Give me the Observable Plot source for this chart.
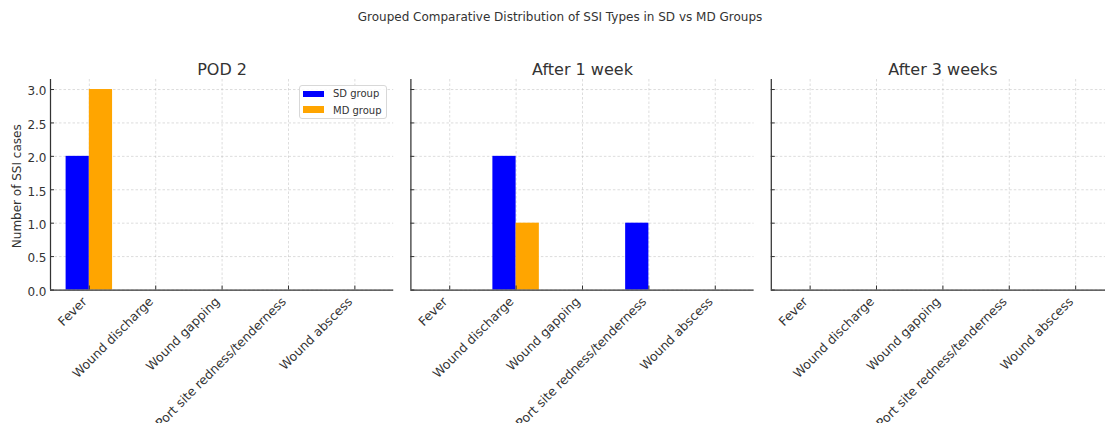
<!DOCTYPE html>
<html>
<head>
<meta charset="utf-8">
<script src="https://cdn.jsdelivr.net/npm/d3@7"></script>
<script src="https://cdn.jsdelivr.net/npm/@observablehq/plot@0.6"></script>
<style>
  body { margin: 0; background: #fff; font-family: "DejaVu Sans", sans-serif; overflow: hidden; }
  #wrap { position: relative; width: 1105px; height: 423px; overflow: hidden; background: #fff; }
  #fig { position: absolute; left: 0; top: 0; width: 1120px; }
  #title { position: relative; height: 40px; }
  #title span { position: absolute; left: 0; width: 1120px; top: 9.6px; text-align: center; font-size: 12px; line-height: normal; color: #333; white-space: nowrap; }
  #legend { position: absolute; left: 299px; top: 85px; width: 86px; height: 32px; border: 1px solid #d8d8d8; border-radius: 3px; background: rgba(255,255,255,0.85); font-size: 10px; color: #333; }
  #legend .sw { position: absolute; left: 3px; width: 21px; height: 6.5px; }
  #legend .lb { position: absolute; left: 33px; line-height: normal; white-space: nowrap; }
</style>
</head>
<body>
<div id="wrap">
  <div id="fig">
    <div id="title"><span>Grouped Comparative Distribution of SSI Types in SD vs MD Groups</span></div>
    <div id="chart"></div>
  </div>
  <div id="legend"></div>
</div>
<script>
// ---- data ----
const categories = ["Fever", "Wound discharge", "Wound gapping", "Port site redness/tenderness", "Wound abscess"];
const periods = ["POD 2", "After 1 week", "After 3 weeks"];
const groups = ["SD group", "MD group"];
const sdPod2 = [2, 0, 0, 0, 0];
const mdPod2 = [3, 0, 0, 0, 0];
const sdWeek1 = [0, 2, 0, 1, 0];
const mdWeek1 = [0, 1, 0, 0, 0];
const sdWeek3 = [0, 0, 0, 0, 0];
const mdWeek3 = [0, 0, 0, 0, 0];
const yTicks = [0, 0.5, 1.0, 1.5, 2.0, 2.5, 3.0];
const groupColors = ["#0000ff", "#ffa500"];

// ---- table for the library ----
const seriesByPeriod = [[sdPod2, mdPod2], [sdWeek1, mdWeek1], [sdWeek3, mdWeek3]];
const barW = 0.35;
const rows = [];
periods.forEach((p, pi) => {
  categories.forEach((c, ci) => {
    groups.forEach((g, gi) => {
      rows.push({
        period: p, category: c, group: g,
        value: seriesByPeriod[pi][gi][ci],
        x1: ci + (gi === 0 ? -barW : 0),
        x2: ci + (gi === 0 ? 0 : barW)
      });
    });
  });
});

const xMin = -0.585, xMax = categories.length - 1 + 0.585;
const catIdx = d3.range(categories.length);
const ink = "#333";
const gridStyle = {stroke: "#b0b0b0", strokeOpacity: 0.55, strokeWidth: 0.8, strokeDasharray: "2.5,2"};

const chart = Plot.plot({
  width: 1120,
  height: 383,
  marginLeft: 50,
  marginRight: 6,
  marginTop: 39,
  marginBottom: 133.5,
  style: {fontFamily: "DejaVu Sans, sans-serif", fontSize: "12px", color: ink, background: "white", overflow: "visible"},
  fx: {domain: periods, paddingInner: 0.0477, paddingOuter: 0, round: false, label: null},
  x: {domain: [xMin, xMax], label: null},
  y: {domain: [0, 3.15], label: null},
  color: {domain: groups, range: groupColors},
  marks: [
    Plot.gridY(yTicks, gridStyle),
    Plot.gridX(catIdx, gridStyle),
    Plot.rect(rows, {fx: "period", x1: "x1", x2: "x2", y1: 0, y2: "value", fill: "group"}),
    Plot.ruleX([xMin], {stroke: ink, strokeWidth: 1.25}),
    Plot.ruleY([0], {stroke: ink, strokeWidth: 1.25}),
    Plot.axisFx({anchor: "top", tickSize: 0, tickPadding: 5, fontSize: 16, label: null}),
    Plot.axisY({ticks: yTicks, tickSize: 0, tickPadding: 4, dy: 2, tickFormat: d3.format(".1f"), label: null}),
    Plot.axisY({ticks: yTicks, tickSize: -4, tickFormat: () => "", label: null, facetAnchor: null}),
    Plot.axisX({ticks: catIdx, tickSize: 0, tickPadding: 6, dx: -4.5, dy: 3.5, fontSize: 12.5, tickRotate: -45, tickFormat: i => categories[i], label: null}),
    Plot.axisX({ticks: catIdx, tickSize: -4, tickFormat: () => "", label: null}),
    Plot.text([periods[0]], {fx: d => d, text: () => "Number of SSI cases", frameAnchor: "left", textAnchor: "middle", rotate: -90, dx: -29.3, dy: 1.5, lineAnchor: "bottom", fontSize: 12, fill: ink})
  ]
});
document.getElementById("chart").appendChild(chart);

// ---- legend (inside first panel) ----
const legend = document.getElementById("legend");
groups.forEach((g, i) => {
  const sw = document.createElement("div");
  sw.className = "sw";
  sw.style.top = (4.7 + i * 15.5) + "px";
  sw.style.background = groupColors[i];
  legend.appendChild(sw);
  const lb = document.createElement("div");
  lb.className = "lb";
  lb.style.top = (2.4 + i * 16.4) + "px";
  lb.textContent = g;
  legend.appendChild(lb);
});
</script>
</body>
</html>
